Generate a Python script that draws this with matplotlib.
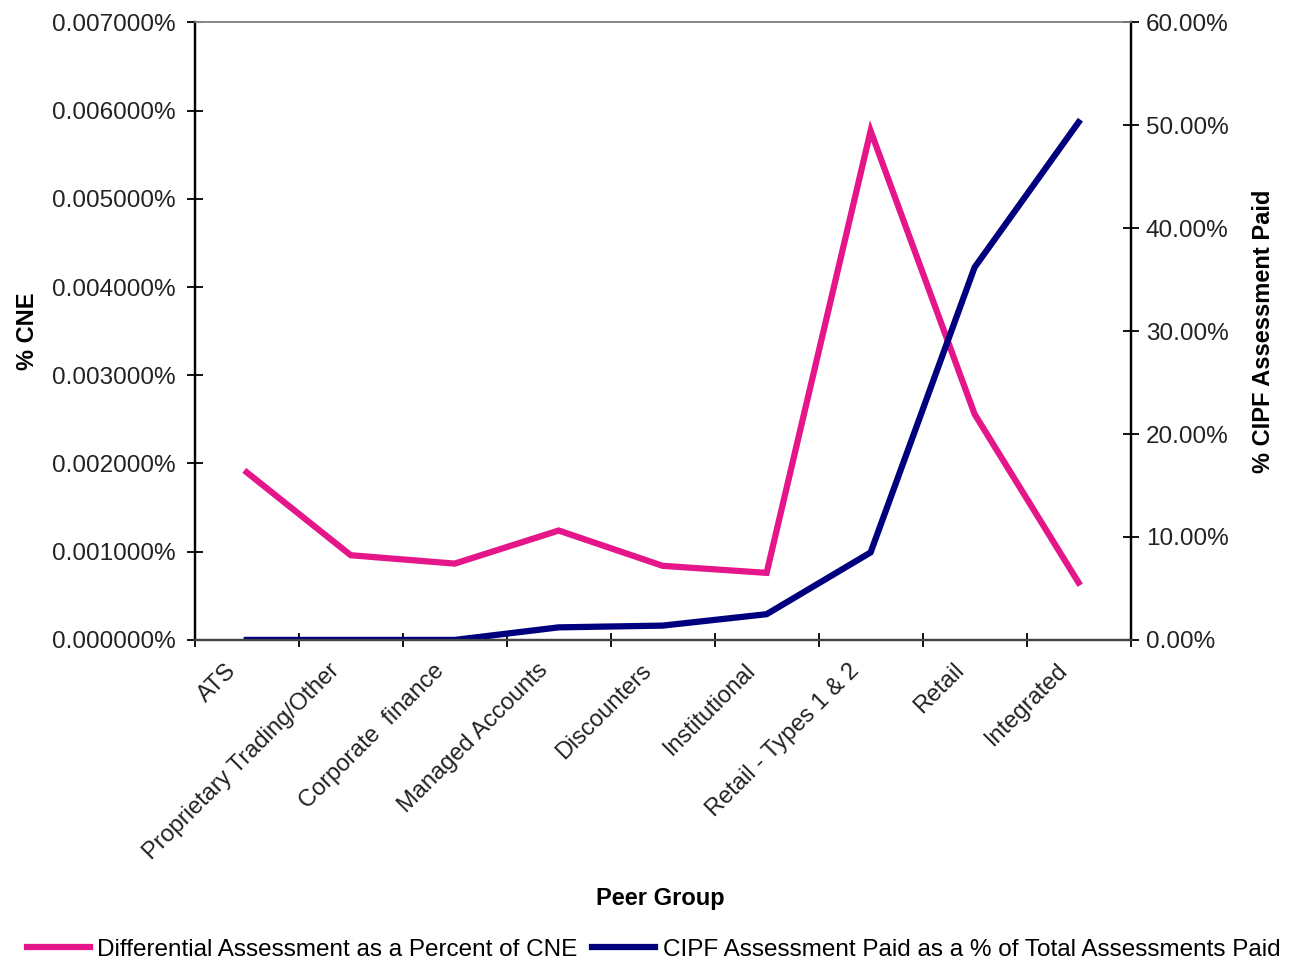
import numpy as np
import matplotlib.pyplot as plt
import matplotlib.transforms as mtransforms
from matplotlib.ticker import FuncFormatter

plt.rcParams['font.family'] = ['Liberation Sans', 'DejaVu Sans']

# peer groups along the bottom
groups = ['ATS', 'Proprietary Trading/Other', 'Corporate  finance', 'Managed Accounts',
          'Discounters', 'Institutional', 'Retail - Types 1 & 2', 'Retail', 'Integrated']

# differential assessment as % of CNE (left axis, in %)
diff_cne = [0.00190, 0.00096, 0.000865, 0.00124, 0.00084, 0.00076, 0.00577, 0.00256, 0.00065]

# CIPF assessment paid as % of total (right axis, in %)
cipf_paid = [0.0, 0.0, 0.0, 1.22, 1.39, 2.5, 8.5, 36.2, 50.3]

pink = '#E5168A'
navy = '#00007F'
txt = '#222222'

fig = plt.figure(figsize=(13.07, 9.74), dpi=100)
ax1 = fig.add_axes([0.149, 0.343, 0.716, 0.634])
ax2 = ax1.twinx()

x = np.arange(len(groups))
l1, = ax1.plot(x, diff_cne, color=pink, linewidth=4.5, solid_joinstyle='miter')
l2, = ax2.plot(x, cipf_paid, color=navy, linewidth=4.5, solid_joinstyle='miter')

ax1.set_xlim(-0.5, len(groups) - 0.5)
ax1.set_ylim(0, 0.007)
ax2.set_ylim(0, 60)
ax1.set_yticks(np.arange(0, 0.0071, 0.001))
ax2.set_yticks(np.arange(0, 61, 10))
ax1.yaxis.set_major_formatter(FuncFormatter(lambda v, p: '%.6f%%' % v))
ax2.yaxis.set_major_formatter(FuncFormatter(lambda v, p: '%.2f%%' % v))

# category ticks sit between groups, labels at centres
ax1.set_xticks(np.arange(-0.5, len(groups), 1.0))
ax1.set_xticklabels([])
ax1.set_xticks(x, minor=True)
ax1.set_xticklabels(groups, minor=True, rotation=45, ha='right', va='top',
                    rotation_mode='anchor', fontsize=17, color=txt)
ax1.tick_params(axis='x', which='minor', length=0, pad=14)
ax1.tick_params(axis='x', which='major', length=10, direction='inout', width=1.3)

# nudge rotated labels a bit left like the original
shift = mtransforms.ScaledTranslation(-0.22, 0, fig.dpi_scale_trans)
for lab in ax1.get_xticklabels(minor=True):
    lab.set_transform(lab.get_transform() + shift)

ax1.tick_params(axis='y', length=12, direction='inout', width=1.3, labelsize=17.5,
                labelcolor=txt, pad=8)
ax2.tick_params(axis='y', length=12, direction='inout', width=1.3, labelsize=17.5,
                labelcolor=txt, pad=5)

for ax in (ax1, ax2):
    ax.spines['top'].set_color('#888888')
    ax.spines['top'].set_linewidth(1.2)
    ax.spines['left'].set_linewidth(1.6)
    ax.spines['right'].set_linewidth(1.6)
    ax.spines['bottom'].set_linewidth(1.6)
    ax.spines['bottom'].set_color('#444444')

ax1.set_ylabel('% CNE', fontsize=17, fontweight='bold')
ax1.yaxis.set_label_coords(-0.166, 0.5)
ax2.set_ylabel('% CIPF Assessment Paid', fontsize=17, fontweight='bold')
ax2.yaxis.set_label_coords(1.13, 0.5)
fig.text(0.505, 0.078, 'Peer Group', ha='center', va='center', fontsize=17, fontweight='bold')

fig.legend([l1, l2], ['Differential Assessment as a Percent of CNE',
                      'CIPF Assessment Paid as a % of Total Assessments Paid'],
           loc='center', bbox_to_anchor=(0.5, 0.025), ncol=2, frameon=False,
           fontsize=17.5, handlelength=2.6, handletextpad=0.3, columnspacing=0.6,
           borderpad=0, borderaxespad=0)

plt.savefig('out.png', dpi=100)
